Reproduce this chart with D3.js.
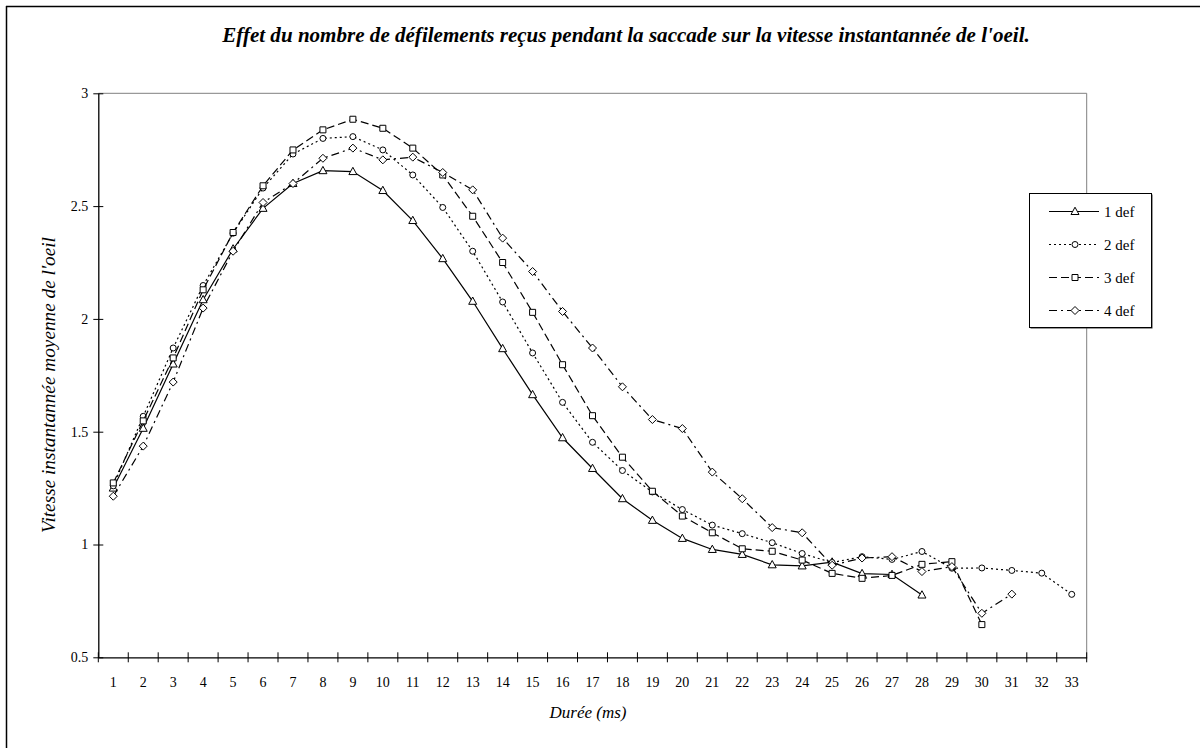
<!DOCTYPE html>
<html><head><meta charset="utf-8">
<script src="https://cdn.jsdelivr.net/npm/d3@7"></script>
<style>
body{margin:0;background:#fff}
svg{display:block}
text{font-family:"Liberation Serif","Times New Roman",Times,serif;fill:#000}
</style>
</head><body>
<svg id="c" width="1200" height="748"></svg>
<script>
// ---------- data ----------
const categories = ["1","2","3","4","5","6","7","8","9","10","11","12","13","14","15","16","17","18","19","20","21","22","23","24","25","26","27","28","29","30","31","32","33"];
const seriesNames = ["1 def","2 def","3 def","4 def"];
const def1 = [1.25,1.515,1.80,2.085,2.31,2.49,2.60,2.657,2.653,2.569,2.436,2.267,2.078,1.868,1.664,1.473,1.337,1.203,1.107,1.027,0.978,0.956,0.91,0.905,0.922,0.871,0.867,0.776];
const def2 = [1.26,1.568,1.871,2.148,2.38,2.58,2.731,2.80,2.808,2.749,2.638,2.494,2.30,2.075,1.849,1.63,1.453,1.328,1.233,1.155,1.086,1.048,1.008,0.96,0.92,0.946,0.934,0.969,0.895,0.896,0.885,0.873,0.779];
const def3 = [1.273,1.548,1.827,2.129,2.383,2.59,2.749,2.838,2.885,2.845,2.757,2.638,2.455,2.25,2.029,1.797,1.571,1.387,1.236,1.126,1.052,0.981,0.97,0.931,0.872,0.85,0.863,0.912,0.924,0.645];
const def4 = [1.214,1.436,1.72,2.048,2.30,2.516,2.60,2.712,2.757,2.705,2.717,2.649,2.572,2.358,2.21,2.033,1.871,1.699,1.554,1.514,1.321,1.203,1.075,1.052,0.908,0.94,0.946,0.88,0.902,0.695,0.78];
const yTicks = [0.5,1,1.5,2,2.5,3];
const yTickLabels = ["0.5","1","1.5","2","2.5","3"];
const titleText = "Effet du nombre de défilements reçus pendant la saccade sur la vitesse instantannée de l'oeil.";
const yTitle = "Vitesse instantannée moyenne de l'oeil";
const xTitle = "Durée (ms)";

// ---------- styles ----------
const dashes = [null, "2,3", "8,4", "8,4,2,4"];
const shapes = [
  "M0,-4.3L4,3L-4,3Z",
  null,
  "M-3,-3H3V3H-3Z",
  "M0,-4L4,0L0,4L-4,0Z"
];
const allSeries = [def1, def2, def3, def4];

const svg = d3.select("#c");
const L = 98.3, R = 1086.7, T = 93.3, B = 657.3;
const x = d3.scaleBand().domain(categories).range([L, R]);
const y = d3.scaleLinear().domain([0.5, 3]).range([B, T]);
const cx = c => x(c) + x.bandwidth() / 2;

function fit(sel, target) {
  const fs = +sel.attr("font-size");
  const len = sel.node().getComputedTextLength();
  sel.attr("font-size", fs * target / len);
}

// outer chart border (left & top visible)
svg.append("line").attr("x1", 6.5).attr("x2", 6.5).attr("y1", 6).attr("y2", 748).attr("stroke", "#000").attr("stroke-width", 1.5);
svg.append("line").attr("x1", 6).attr("x2", 1200).attr("y1", 6.5).attr("y2", 6.5).attr("stroke", "#000").attr("stroke-width", 1.5);

// title
const t = svg.append("text").attr("x", 626).attr("y", 42).attr("text-anchor", "middle")
  .attr("font-size", 17).attr("font-weight", "bold").attr("font-style", "italic").text(titleText);
fit(t, 808);

// plot border (grey top & right)
svg.append("line").attr("x1", L).attr("x2", R).attr("y1", T).attr("y2", T).attr("stroke", "#808080").attr("stroke-width", 1);
svg.append("line").attr("x1", R).attr("x2", R).attr("y1", T).attr("y2", B).attr("stroke", "#808080").attr("stroke-width", 1);

// y axis
const ya = svg.append("g").attr("transform", `translate(${L},0)`)
  .call(d3.axisLeft(y).tickValues(yTicks).tickFormat((d, i) => yTickLabels[i]).tickSizeInner(5).tickSizeOuter(0).tickPadding(5));
ya.attr("font-family", null);
ya.select(".domain").attr("stroke", "#000").attr("stroke-width", 1.3);
ya.selectAll(".tick line").attr("x1", 5).attr("x2", -5).attr("stroke", "#000");
ya.selectAll(".tick text").attr("font-size", 14);

// x axis
const xa = svg.append("g").attr("transform", `translate(0,${B})`)
  .call(d3.axisBottom(x).tickSize(0).tickPadding(20));
xa.attr("font-family", null);
xa.select(".domain").attr("stroke", "#000").attr("stroke-width", 1.3);
xa.selectAll(".tick text").attr("font-size", 14);
const edges = categories.map(c => x(c)).concat([x(categories[categories.length - 1]) + x.bandwidth()]);
xa.selectAll("line.edge").data(edges).join("line").attr("class", "edge")
  .attr("x1", d => d).attr("x2", d => d).attr("y1", -5).attr("y2", 5).attr("stroke", "#000");

// axis titles
const yt = svg.append("text").attr("transform", "translate(48,385) rotate(-90)").attr("text-anchor", "middle")
  .attr("dy", "0.35em").attr("font-size", 16).attr("font-style", "italic").text(yTitle);
fit(yt, 296);
const xt = svg.append("text").attr("x", 588).attr("y", 718).attr("text-anchor", "middle")
  .attr("font-size", 16).attr("font-style", "italic").text(xTitle);
fit(xt, 77);

// series
const line = d3.line().x((d, i) => cx(categories[i])).y(d => y(d));
function marker(g, k, px, py) {
  if (k === 1) {
    g.append("circle").attr("cx", px).attr("cy", py).attr("r", 3)
      .attr("fill", "#fff").attr("stroke", "#000").attr("stroke-width", 1);
  } else {
    g.append("path").attr("d", shapes[k]).attr("transform", `translate(${px},${py})`)
      .attr("fill", "#fff").attr("stroke", "#000").attr("stroke-width", 1);
  }
}
allSeries.forEach((vals, k) => {
  const g = svg.append("g");
  g.append("path").attr("d", line(vals)).attr("fill", "none").attr("stroke", "#000")
    .attr("stroke-width", 1.2).attr("stroke-dasharray", dashes[k]);
  vals.forEach((v, i) => marker(g, k, cx(categories[i]), y(v)));
});

// legend
const lg = svg.append("g");
lg.append("rect").attr("x", 1030.5).attr("y", 194.5).attr("width", 122).attr("height", 134).attr("fill", "#333");
lg.append("rect").attr("x", 1029.5).attr("y", 193.5).attr("width", 122).attr("height", 134).attr("fill", "#fff").attr("stroke", "#000").attr("stroke-width", 1);
const ly = d3.scalePoint().domain(seriesNames).range([211.5, 310.5]);
seriesNames.forEach((n, k) => {
  const yy = ly(n);
  lg.append("line").attr("x1", 1049).attr("x2", 1099).attr("y1", yy).attr("y2", yy)
    .attr("stroke", "#000").attr("stroke-width", 1.2).attr("stroke-dasharray", dashes[k]);
  marker(lg, k, 1075, yy);
  lg.append("text").attr("x", 1104).attr("y", yy).attr("dy", "0.35em").attr("font-size", 15).text(n);
});
</script>
</body></html>
